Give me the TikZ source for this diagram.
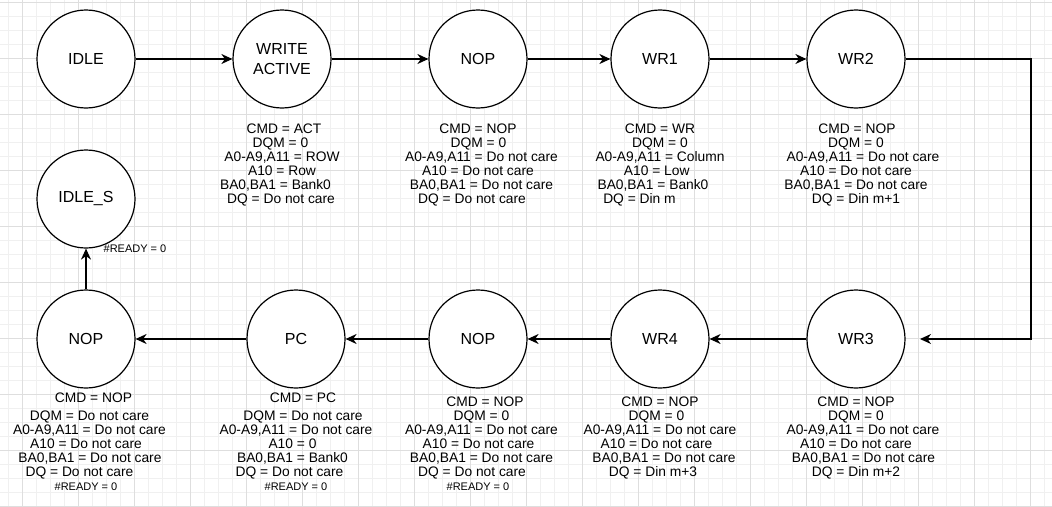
\documentclass[tikz,border=0pt]{standalone}
\usepackage{fontspec}
\setmainfont{Liberation Sans}
\usetikzlibrary{arrows.meta}
\definecolor{gridminor}{RGB}{240,240,240}
\definecolor{gridmajor}{RGB}{222,222,222}
\newcommand\sh[2]{\hspace*{#1pt}#2\hspace*{-#1pt}}
\begin{document}
\begin{tikzpicture}[x=1pt,y=-1pt,
  state/.style={circle,draw=black,line width=1.2pt,minimum size=98pt,inner sep=0pt,
    font=\fontsize{16}{20}\selectfont,align=center,fill=white},
  info/.style={anchor=north,inner sep=0pt,align=center,font=\fontsize{13.8}{14}\selectfont},
  rdy/.style={inner sep=0pt,font=\fontsize{11}{13}\selectfont},
  arr/.style={line width=1.3pt,-{Stealth[length=11pt,width=10pt,inset=3.5pt]}},
  gmin/.style={draw=gridminor,line width=0.8pt},
  gmaj/.style={draw=gridmajor,line width=0.8pt}]
\useasboundingbox[fill=white] (0,0) rectangle (1052,506);
% grid
\foreach \x in {8,22,...,1052} \draw[gmin] (\x,0) -- (\x,506);
\foreach \y in {2,16,...,506} \draw[gmin] (0,\y) -- (1052,\y);
\foreach \x in {22,78,...,1052} \draw[gmaj] (\x,0) -- (\x,506);
\foreach \y in {2,58,...,506} \draw[gmaj] (0,\y) -- (1052,\y);
% states
\node[state] (idle) at (86,59) {IDLE};
\node[state] (wa) at (282,59) {WRITE\\ACTIVE};
\node[state] (nop1) at (478,59) {NOP};
\node[state] (wr1) at (660,59) {WR1};
\node[state] (wr2) at (856,59) {WR2};
\node[state] (idles) at (86,199) {IDLE\_S};
\node[state] (nop3) at (86,339) {NOP};
\node[state] (pc) at (296,339) {PC};
\node[state] (nop2) at (478,339) {NOP};
\node[state] (wr4) at (660,339) {WR4};
\node[state] (wr3) at (856,339) {WR3};
% labels top
\node[info] (lwa) at (282,124) {\sh{2}{CMD = ACT}\\\sh{-3}{DQM = 0}\\\sh{0}{A0-A9,A11 = ROW}\\\sh{0}{A10 = Row}\\\sh{-13}{BA0,BA1 = Bank0}\\\sh{-1}{DQ = Do not care}};
\node[info] (lnop1) at (478,124) {\sh{0}{CMD = NOP}\\\sh{1}{DQM = 0}\\\sh{7}{A0-A9,A11 = Do not care}\\\sh{0}{A10 = Do not care}\\\sh{7}{BA0,BA1 = Do not care}\\\sh{-6}{DQ = Do not care}};
\node[info] (lwr1) at (660,124) {\sh{0}{CMD = WR}\\\sh{0}{DQM = 0}\\\sh{0}{A0-A9,A11 = Column}\\\sh{-6.5}{A10 = Low}\\\sh{-14}{BA0,BA1 = Bank0}\\\sh{-20.5}{DQ = Din m}};
\node[info] (lwr2) at (856,124) {\sh{1}{CMD = NOP}\\\sh{0}{DQM = 0}\\\sh{14}{A0-A9,A11 = Do not care}\\\sh{0}{A10 = Do not care}\\\sh{0}{BA0,BA1 = Do not care}\\\sh{0}{DQ = Din m+1}};
% labels bottom
\node[info] (lnop3) at (86,393) {\sh{7.5}{CMD = NOP}\\[4pt]\sh{7}{DQM = Do not care}\\\sh{7}{A0-A9,A11 = Do not care}\\\sh{0}{A10 = Do not care}\\\sh{8}{BA0,BA1 = Do not care}\\\sh{-6.5}{DQ = Do not care}};
\node[info] (lpc) at (296,393) {\sh{7}{CMD = PC}\\[4pt]\sh{14}{DQM = Do not care}\\\sh{0}{A0-A9,A11 = Do not care}\\\sh{-7}{A10 = 0}\\\sh{-7}{BA0,BA1 = Bank0}\\\sh{-6.5}{DQ = Do not care}};
\node[info] (lnop2) at (478,397) {\sh{7}{CMD = NOP}\\\sh{7}{DQM = 0}\\\sh{7}{A0-A9,A11 = Do not care}\\\sh{1}{A10 = Do not care}\\\sh{7}{BA0,BA1 = Do not care}\\\sh{-6}{DQ = Do not care}};
\node[info] (lwr4) at (660,397) {\sh{0}{CMD = NOP}\\\sh{-7}{DQM = 0}\\\sh{0}{A0-A9,A11 = Do not care}\\\sh{-7}{A10 = Do not care}\\\sh{8}{BA0,BA1 = Do not care}\\\sh{-7}{DQ = Din m+3}};
\node[info] (lwr3) at (856,397) {\sh{0}{CMD = NOP}\\\sh{0}{DQM = 0}\\\sh{14}{A0-A9,A11 = Do not care}\\\sh{0}{A10 = Do not care}\\\sh{15}{BA0,BA1 = Do not care}\\\sh{0}{DQ = Din m+2}};
% ready labels
\node[rdy] (r0) at (135,249) {\#READY = 0};
\node[rdy] (r1) at (86,487) {\#READY = 0};
\node[rdy] (r2) at (296,487) {\#READY = 0};
\node[rdy] (r3) at (478,487) {\#READY = 0};
% connectors
\draw[arr] (idle) -- (wa);
\draw[arr] (wa) -- (nop1);
\draw[arr] (nop1) -- (wr1);
\draw[arr] (wr1) -- (wr2);
\coordinate (c1) at (1031,59);
\coordinate (c2) at (1031,339);
\coordinate (c3) at (920,339);
\draw[arr] (wr2) -- (c1) -- (c2) -- (c3);
\draw[arr] (wr3) -- (wr4);
\draw[arr] (wr4) -- (nop2);
\draw[arr] (nop2) -- (pc);
\draw[arr] (pc) -- (nop3);
\draw[arr] (nop3) -- (idles);
\end{tikzpicture}
\end{document}
